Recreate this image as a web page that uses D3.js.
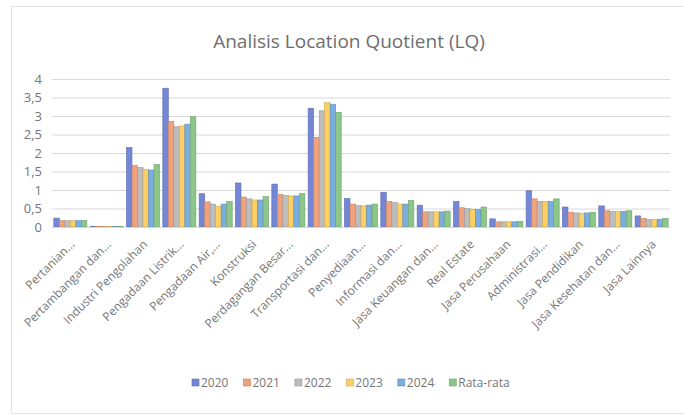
<!DOCTYPE html>
<html>
<head>
<meta charset="utf-8">
<script src="https://cdn.jsdelivr.net/npm/d3@7"></script>
<style>
  body { margin: 0; background: #fff; }
  svg text { font-family: "Open Sans", sans-serif; fill: #767676; }
</style>
</head>
<body>
<div id="chart"></div>
<script>
// categories (sektor) and LQ values per year
var sectors = ["Pertanian...", "Pertambangan dan...", "Industri Pengolahan", "Pengadaan Listrik...",
  "Pengadaan Air,...", "Konstruksi", "Perdagangan Besar...", "Transportasi dan...", "Penyediaan...",
  "Informasi dan...", "Jasa Keuangan dan...", "Real Estate", "Jasa Perusahaan", "Administrasi...",
  "Jasa Pendidikan", "Jasa Kesehatan dan...", "Jasa Lainnya"];
var seriesNames = ["2020", "2021", "2022", "2023", "2024", "Rata-rata"];
var lq2020 = [0.24, 0.02, 2.15, 3.75, 0.90, 1.19, 1.16, 3.21, 0.77, 0.94, 0.59, 0.69, 0.22, 0.98, 0.54, 0.57, 0.30];
var lq2021 = [0.17, 0.02, 1.66, 2.85, 0.68, 0.81, 0.88, 2.42, 0.62, 0.69, 0.41, 0.52, 0.14, 0.76, 0.40, 0.44, 0.23];
var lq2022 = [0.17, 0.02, 1.61, 2.71, 0.62, 0.76, 0.85, 3.14, 0.58, 0.66, 0.41, 0.50, 0.14, 0.69, 0.38, 0.42, 0.20];
var lq2023 = [0.17, 0.02, 1.56, 2.73, 0.56, 0.73, 0.84, 3.36, 0.57, 0.62, 0.41, 0.48, 0.14, 0.69, 0.37, 0.42, 0.20];
var lq2024 = [0.17, 0.02, 1.54, 2.78, 0.62, 0.73, 0.84, 3.32, 0.59, 0.62, 0.41, 0.47, 0.14, 0.69, 0.38, 0.42, 0.20];
var lqAvg  = [0.18, 0.02, 1.69, 2.98, 0.69, 0.82, 0.90, 3.10, 0.62, 0.72, 0.43, 0.54, 0.15, 0.76, 0.40, 0.44, 0.23];
var yTicks = [0, 0.5, 1, 1.5, 2, 2.5, 3, 3.5, 4];

var colors = ["#7387d6", "#f0a27c", "#bdbdbd", "#fdd066", "#7aaee0", "#8cc689"];
var allSeries = [lq2020, lq2021, lq2022, lq2023, lq2024, lqAvg];

var width = 684, height = 416;
var margin = { top: 79, right: 14, bottom: 189, left: 52 };

var svg = d3.select("#chart").append("svg")
    .attr("width", width)
    .attr("height", height);

// chart frame
svg.append("rect")
    .attr("x", 11.5).attr("y", 6.5)
    .attr("width", 700).attr("height", 407)
    .attr("fill", "none")
    .attr("stroke", "#e2e2e2");

svg.append("text")
    .attr("x", 349).attr("y", 48)
    .attr("text-anchor", "middle")
    .style("font-size", "19px")
    .style("fill", "#6e6e6e")
    .text("Analisis Location Quotient (LQ)");

var g = svg.append("g")
    .attr("transform", "translate(" + margin.left + "," + margin.top + ")");
var w = width - margin.left - margin.right,
    h = height - margin.top - margin.bottom;

var x0 = d3.scaleBand().domain(sectors).range([0, w]).paddingInner(0.09).paddingOuter(0.05);
var x1 = d3.scaleBand().domain(seriesNames).range([0, x0.bandwidth()]);
var y = d3.scaleLinear().domain([0, 4]).range([h, 0]);

var fmt = function(d) { return String(d).replace(".", ","); };

var yAxis = g.append("g")
    .call(d3.axisLeft(y).tickValues(yTicks).tickSize(-w).tickFormat(fmt));
yAxis.select(".domain").remove();
yAxis.selectAll(".tick line").attr("stroke", "#d9d9d9");
yAxis.selectAll(".tick text").attr("x", -10).style("font-size", "13px").style("fill", "#767676");

// bars
var groups = g.selectAll(".grp")
    .data(sectors)
    .enter().append("g")
    .attr("transform", function(d) { return "translate(" + x0(d) + ",0)"; });

groups.selectAll("rect")
    .data(function(d, i) {
      return seriesNames.map(function(s, j) { return { s: s, v: allSeries[j][i], c: colors[j] }; });
    })
    .enter().append("rect")
    .attr("x", function(d) { return x1(d.s); })
    .attr("y", function(d) { return y(d.v); })
    .attr("width", x1.bandwidth())
    .attr("height", function(d) { return h - y(d.v); })
    .attr("fill", function(d) { return d.c; })
    .attr("stroke", function(d) { return d3.color(d.c).darker(0.6); })
    .attr("stroke-width", 0.6);

// x labels, rotated
var xAxis = g.append("g")
    .attr("transform", "translate(0," + h + ")")
    .call(d3.axisBottom(x0).tickSize(0));
xAxis.select(".domain").attr("stroke", "#d9d9d9");
xAxis.selectAll(".tick text")
    .style("font-size", "12px")
    .style("fill", "#767676")
    .attr("text-anchor", "end")
    .attr("dy", "0.35em")
    .attr("transform", "translate(0,13) rotate(-45)");

// legend
var legend = svg.append("g").attr("transform", "translate(192,383)");
var lx = 0;
seriesNames.forEach(function(s, i) {
  var item = legend.append("g").attr("transform", "translate(" + lx + ",0)");
  item.append("rect")
      .attr("x", 0).attr("y", -4).attr("width", 7).attr("height", 7)
      .attr("fill", colors[i])
      .attr("stroke", d3.color(colors[i]).darker(0.6)).attr("stroke-width", 0.6);
  var t = item.append("text")
      .attr("x", 9).attr("y", 0).attr("dy", "0.35em")
      .style("font-size", "12px")
      .text(s);
  lx += 9 + t.node().getComputedTextLength() + 15;
});
</script>
</body>
</html>
